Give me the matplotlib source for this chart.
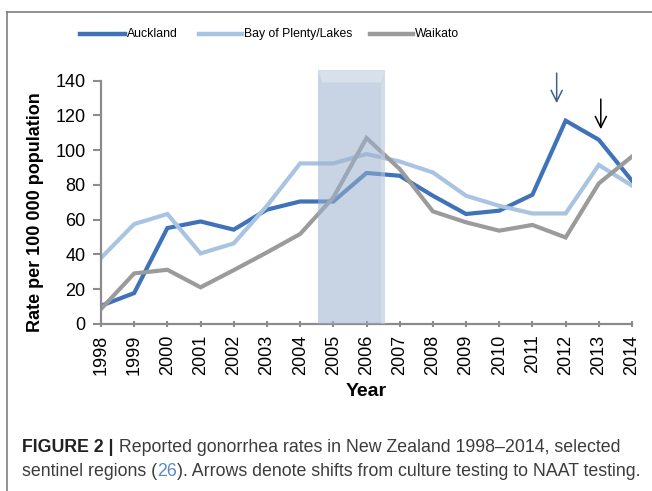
import matplotlib
matplotlib.use("Agg")
import matplotlib.pyplot as plt
from matplotlib.lines import Line2D
from matplotlib.patches import Rectangle, Polygon

# dane
lata = list(range(1998, 2015))
auckland = [10.5, 17.8, 55.2, 59.0, 54.3, 65.8, 70.5, 70.5, 86.9, 85.3, 73.8, 63.3, 65.2, 74.4, 117.0, 106.0, 82.4]
bay_of_plenty = [38.0, 57.5, 63.3, 40.6, 46.4, 68.0, 92.4, 92.4, 97.8, 93.5, 87.2, 73.8, 68.0, 63.6, 63.6, 91.5, 79.6]
waikato = [8.6, 29.1, 31.2, 21.1, 31.0, 41.2, 51.8, 72.8, 107.0, 89.2, 64.8, 58.5, 53.7, 57.0, 49.8, 80.9, 96.4]
nazwy = ["Auckland", "Bay of Plenty/Lakes", "Waikato"]
kolory = ["#3f72b8", "#a9c3e3", "#9b9b9b"]

# okres zaznaczony prostokatem i strzalki (zmiana testow)
okres = (2004.55, 2006.55)
strzalki = [(2011.73, 146, 125.5, "#3f5f8f"), (2013.06, 131, 110.5, "black")]

plt.rcParams["font.family"] = "Liberation Sans"

W, H = 652, 491
fig = plt.figure(figsize=(W / 100, H / 100), dpi=100)
ax = fig.add_axes([101 / W, 1 - 324 / H, 531 / W, 243.3 / H])

for dane, kolor in zip([auckland, bay_of_plenty, waikato], kolory):
    ax.plot(lata, dane, color=kolor, linewidth=3, solid_joinstyle="miter", zorder=2)

# polprzezroczysty prostokat nad liniami (z lekkim "fazowaniem")
x0, x1 = okres
ax.add_patch(Rectangle((x0, 0), x1 - x0, 146, facecolor="#9cb2cd",
                       alpha=0.55, edgecolor="none", zorder=3, clip_on=False))
ax.add_patch(Polygon([(x0, 146), (x1, 146), (x1 - 0.12, 139), (x0 + 0.12, 139)], closed=True,
                     facecolor="white", alpha=0.3, edgecolor="none", zorder=3, clip_on=False))
ax.add_patch(Polygon([(x1, 146), (x1, 0), (x1 - 0.12, 0), (x1 - 0.12, 139)], closed=True,
                     facecolor="white", alpha=0.2, edgecolor="none", zorder=3, clip_on=False))

for x, y0, y1, kolor in strzalki:
    ax.annotate("", xy=(x, y1), xytext=(x, y0), annotation_clip=False,
                arrowprops=dict(arrowstyle="->", color=kolor, lw=1.1, mutation_scale=20))

ax.set_xlim(1998, 2014)
ax.set_ylim(0, 140)
ax.set_xticks(lata)
ax.set_xticklabels([str(r) for r in lata], rotation=90, fontsize=13)
ax.set_yticks(range(0, 141, 20))
ax.tick_params(axis="y", labelsize=13, length=6, width=1.5, color="#8c8c8c", pad=5)
ax.tick_params(axis="x", length=5, width=1.5, color="#8c8c8c", direction="inout", pad=5)
for s in ["top", "right"]:
    ax.spines[s].set_visible(False)
for s in ["left", "bottom"]:
    ax.spines[s].set_color("#8c8c8c")
    ax.spines[s].set_linewidth(1.6)

ax.set_xlabel("Year", fontsize=14, fontweight="bold", labelpad=6)
fig.text(36 / W, 1 - 212 / H, "Rate per 100 000 population", rotation=90, fontsize=13,
         fontweight="bold", ha="center", va="center")

# legenda rysowana recznie
pozycje = [(80, 125), (199, 242), (370, 413)]
for (a, b), nazwa, kolor in zip(pozycje, nazwy, kolory):
    fig.add_artist(Line2D([a / W, b / W], [1 - 34 / H] * 2, color=kolor, lw=3.2,
                          transform=fig.transFigure))
    fig.text((b + 2) / W, 1 - 34 / H, nazwa, fontsize=8.8, ha="left", va="center")

# ramka
fig.add_artist(Line2D([7 / W, 7 / W], [0, 1 - 12 / H], color="#7f7f7f", lw=1.2, transform=fig.transFigure))
fig.add_artist(Line2D([7 / W, 1], [1 - 12 / H] * 2, color="#7f7f7f", lw=1.2, transform=fig.transFigure))

# podpis
renderer = fig.canvas.get_renderer()


def wiersz(x, y, czesci):
    for tekst, waga, kolor in czesci:
        t = fig.text(x, y, tekst, fontsize=12.8, fontweight=waga, color=kolor, ha="left", va="center")
        x = t.get_window_extent(renderer).x1 / fig.bbox.width


szary = "#3c3c3c"
wiersz(22 / W, 1 - 447 / H, [("FIGURE 2 |", "bold", "#222222"),
                              (" Reported gonorrhea rates in New Zealand 1998–2014, selected", "normal", szary)])
wiersz(22 / W, 1 - 471 / H, [("sentinel regions (", "normal", szary), ("26", "normal", "#5b8ac4"),
                              ("). Arrows denote shifts from culture testing to NAAT testing.", "normal", szary)])

fig.savefig("out.png", dpi=100)
